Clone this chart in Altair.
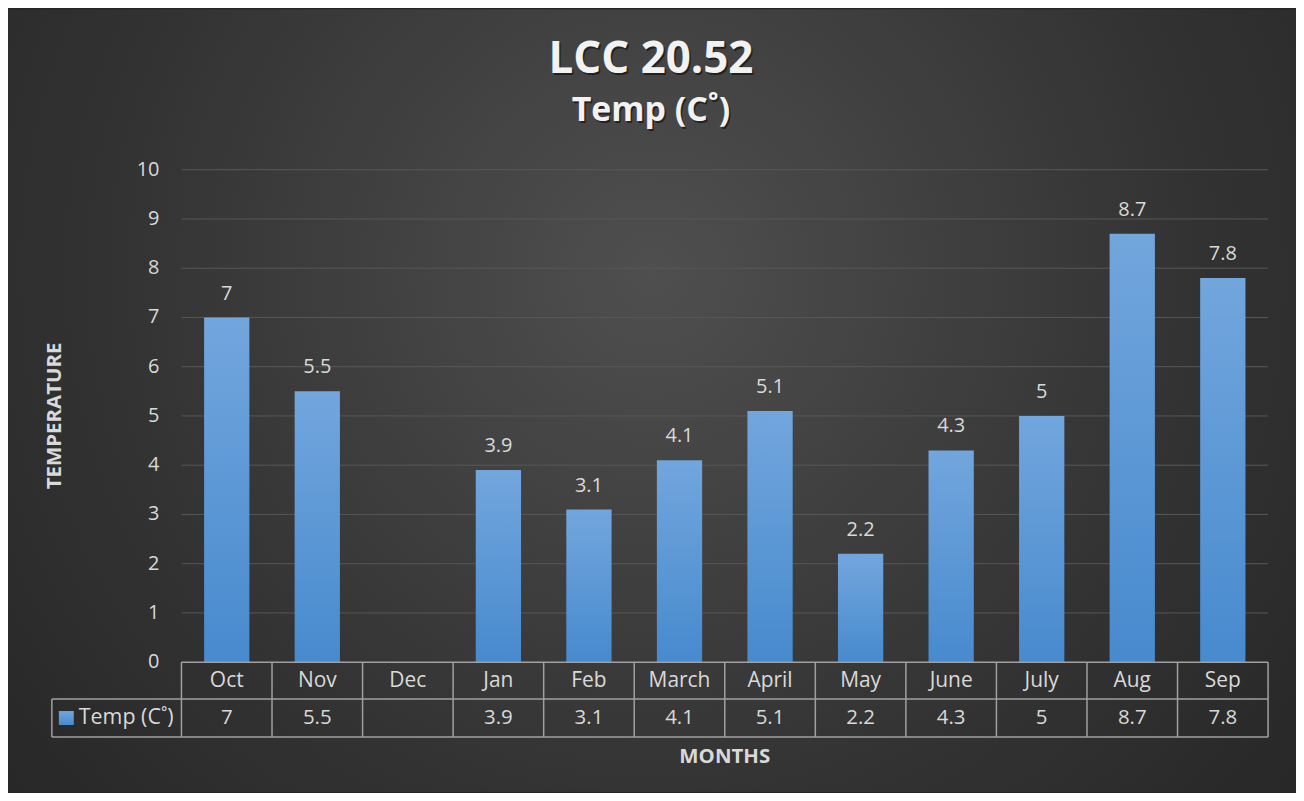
import altair as alt
import pandas as pd

# ---- data ----
months = ["Oct", "Nov", "Dec", "Jan", "Feb", "March", "April", "May", "June", "July", "Aug", "Sep"]
temps = [7, 5.5, None, 3.9, 3.1, 4.1, 5.1, 2.2, 4.3, 5, 8.7, 7.8]
series_name = "Temp (C˚)"
y_ticks = [0, 1, 2, 3, 4, 5, 6, 7, 8, 9, 10]
grid_ticks = [1, 2, 3, 4, 5, 6, 7, 8, 9, 10]
title_lines = ["LCC 20.52", "Temp (C˚)"]
x_title = "MONTHS"
y_title = "TEMPERATURE"

labels = [("" if v is None else f"{v:g}") for v in temps]
df = pd.DataFrame({"month": months, "temp": temps, "label": labels})
tick_df = pd.DataFrame({"v": y_ticks, "t": [str(v) for v in y_ticks]})
grid_df = pd.DataFrame({"v": grid_ticks})
one = pd.DataFrame({"series": [series_name], "t1": [title_lines[0]], "t2": [title_lines[1]],
                    "xt": [x_title], "yt": [y_title]})

W, H = 1090, 494
PAD = {"left": 174, "top": 161, "right": 28, "bottom": 130}
FONT = "Open Sans"
TXT = "#d9d9d9"
LINE = "#a0a0a0"
TCX = 471  # horizontal centre of the whole chart, relative to plot left

bar_grad = alt.LinearGradient(
    gradient="linear",
    stops=[alt.GradientStop(offset=0, color="#72a6dd"),
           alt.GradientStop(offset=1, color="#478ace")],
    x1=0, x2=0, y1=0, y2=1,
)
bg_grad = alt.RadialGradient(
    gradient="radial",
    stops=[alt.GradientStop(offset=0, color="#4f4f4f"),
           alt.GradientStop(offset=0.55, color="#333333"),
           alt.GradientStop(offset=1, color="#222222")],
    x1=0.5, y1=0.4, r1=0, x2=0.5, y2=0.4, r2=0.75,
)

xscale = alt.Scale(domain=months, paddingInner=0, paddingOuter=0)
yscale = alt.Scale(domain=[0, 10])
X = dict(sort=months, scale=xscale, axis=None)

bg = alt.Chart(one).mark_rect(fill=bg_grad).encode(
    x=alt.value(-PAD["left"]), x2=alt.value(W + PAD["right"]),
    y=alt.value(-PAD["top"]), y2=alt.value(H + PAD["bottom"]),
)

grid = alt.Chart(grid_df).mark_rule(color="#575757", strokeWidth=1).encode(
    y=alt.Y("v:Q", scale=yscale, axis=None),
    x=alt.value(0), x2=alt.value(W),
)

ylabels = alt.Chart(tick_df).mark_text(font=FONT, fontSize=20, color=TXT,
                                       align="right", baseline="middle").encode(
    y=alt.Y("v:Q", scale=yscale, axis=None),
    x=alt.value(-22),
    text="t:N",
)

bars = alt.Chart(df).mark_bar(width=alt.RelativeBandSize(0.5), fill=bar_grad).encode(
    x=alt.X("month:N", **X),
    y=alt.Y("temp:Q", scale=yscale, axis=None),
)

bar_labels = alt.Chart(df).mark_text(font=FONT, fontSize=20, color=TXT,
                                     baseline="alphabetic", dy=-18).encode(
    x=alt.X("month:N", **X),
    y=alt.Y("temp:Q", scale=yscale, axis=None),
    text="label:N",
)

# data table under the plot
col_lines = alt.Chart(df).mark_rule(color=LINE, strokeWidth=1.5).encode(
    x=alt.X("month:N", bandPosition=1, **X),
    y=alt.value(H), y2=alt.value(H + 75),
)
first_line = alt.Chart(one).mark_rule(color=LINE, strokeWidth=1.5).encode(
    x=alt.value(0), y=alt.value(H), y2=alt.value(H + 75))
hline0 = alt.Chart(one).mark_rule(color=LINE, strokeWidth=1.5).encode(
    x=alt.value(0), x2=alt.value(W), y=alt.value(H))
hline1 = alt.Chart(one).mark_rule(color=LINE, strokeWidth=1.5).encode(
    x=alt.value(-130), x2=alt.value(W), y=alt.value(H + 37))
hline2 = alt.Chart(one).mark_rule(color=LINE, strokeWidth=1.5).encode(
    x=alt.value(-130), x2=alt.value(W), y=alt.value(H + 75))
vline = alt.Chart(one).mark_rule(color=LINE, strokeWidth=1.5).encode(
    x=alt.value(-130), y=alt.value(H + 37), y2=alt.value(H + 75))

month_row = alt.Chart(df).mark_text(font=FONT, fontSize=21, color=TXT,
                                    baseline="middle").encode(
    x=alt.X("month:N", **X), y=alt.value(H + 19), text="month:N")
value_row = alt.Chart(df).mark_text(font=FONT, fontSize=20.5, color=TXT,
                                    baseline="middle").encode(
    x=alt.X("month:N", **X), y=alt.value(H + 56), text="label:N")

key = alt.Chart(one).mark_rect(fill=bar_grad).encode(
    x=alt.value(-123), x2=alt.value(-108), y=alt.value(H + 49), y2=alt.value(H + 63))
key_text = alt.Chart(one).mark_text(font=FONT, fontSize=21.5, color=TXT,
                                    align="left", baseline="middle").encode(
    x=alt.value(-103), y=alt.value(H + 56), text="series:N")

# axis titles
xt = alt.Chart(one).mark_text(font=FONT, fontSize=20.5, fontWeight="bold", color=TXT,
                              baseline="middle").encode(
    x=alt.value(W / 2), y=alt.value(H + 95), text="xt:N")
yt = alt.Chart(one).mark_text(font=FONT, fontSize=20.5, fontWeight="bold", color=TXT,
                              baseline="middle", angle=270).encode(
    x=alt.value(-127), y=alt.value(H / 2), text="yt:N")

# chart title (two lines) with a soft shadow
def title_layer(field, size, ypos, color, dx=0, dy=0, opacity=1.0):
    return alt.Chart(one).mark_text(font=FONT, fontSize=size, fontWeight="bold",
                                    color=color, baseline="alphabetic", dx=dx, dy=dy,
                                    opacity=opacity).encode(
        x=alt.value(TCX), y=alt.value(ypos), text=f"{field}:N")

t1s = title_layer("t1", 44, -97, "#000000", 1.5, 2, 0.5)
t2s = title_layer("t2", 34, -49, "#000000", 1.5, 2, 0.5)
t1 = title_layer("t1", 44, -97, "#f2f2f2")
t2 = title_layer("t2", 34, -49, "#f2f2f2")

chart = alt.layer(
    bg, grid, ylabels, bars, bar_labels, col_lines, first_line, hline0, hline1, hline2,
    vline, month_row, value_row, key, key_text, xt, yt, t1s, t2s, t1, t2
).properties(
    width=W, height=H,
    padding=PAD,
    autosize=alt.AutoSizeParams(type="none"),
).configure(background="#262626").configure_view(stroke=None)

chart.save("out.html", embed_options={"renderer": "svg", "actions": False})
